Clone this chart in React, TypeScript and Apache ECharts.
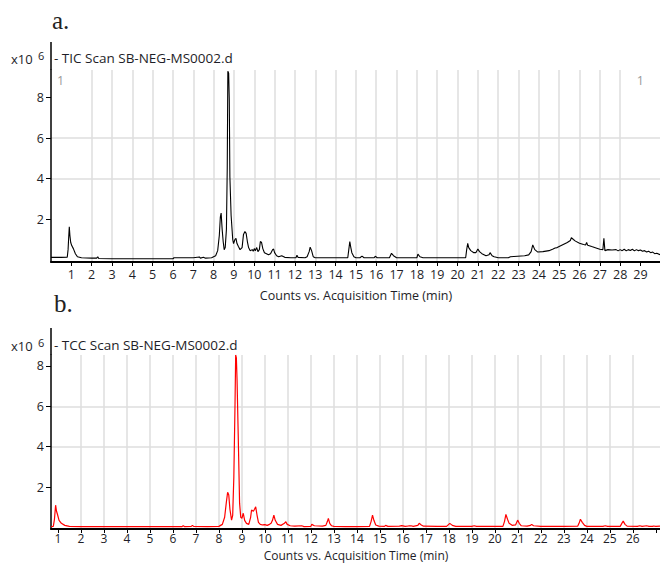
import React, { useEffect, useRef } from "react";
import * as echarts from "echarts";

// TIC (panel a) – retention time (min) and counts (x10^6)
const ticTimes = [
  0.0, 0.5, 0.8, 0.84, 0.87, 0.9, 0.93, 0.97, 1.02, 1.1, 1.2, 1.3, 1.5, 2.0, 2.25, 2.3, 2.35, 3.0, 4.0, 5.0,
  6.0, 6.05, 6.5, 7.0, 7.3, 7.35, 7.5, 7.6, 7.9, 8.1, 8.2, 8.28, 8.33, 8.37, 8.42, 8.47, 8.52, 8.57, 8.63, 8.67,
  8.7, 8.74, 8.77, 8.8, 8.86, 8.94, 8.98, 9.05, 9.1, 9.15, 9.22, 9.3, 9.4, 9.47, 9.54, 9.6, 9.66, 9.72, 9.8, 9.9,
  9.95, 10.0, 10.05, 10.12, 10.18, 10.25, 10.3, 10.36, 10.42, 10.5, 10.6, 10.7, 10.8, 10.9, 10.95, 11.0, 11.1, 11.2, 11.35, 11.5,
  11.8, 12.05, 12.1, 12.15, 12.5, 12.6, 12.7, 12.75, 12.82, 12.9, 13.0, 14.0, 14.6, 14.65, 14.7, 14.75, 14.8, 14.9, 15.0, 15.2,
  15.3, 15.4, 15.9, 15.95, 16.05, 16.65, 16.75, 16.85, 17.0, 18.0, 18.05, 18.15, 18.3, 20.4, 20.45, 20.5, 20.55, 20.65, 20.8, 20.9,
  21.0, 21.08, 21.2, 21.4, 21.55, 21.6, 21.7, 21.8, 22.0, 22.5, 22.6, 23.3, 23.5, 23.62, 23.7, 23.8, 23.95, 24.2, 24.5, 24.7,
  24.8, 24.9, 25.0, 25.2, 25.4, 25.55, 25.6, 25.7, 25.8, 26.0, 26.2, 26.3, 26.35, 26.4, 26.6, 26.85, 27.0, 27.15, 27.2, 27.25,
  27.4, 27.6, 27.8, 27.9, 28.0, 28.1, 28.2, 28.3, 28.4, 28.5, 28.6, 28.7, 28.8, 28.9, 29.0, 29.1, 29.2, 29.3, 29.4, 29.5,
  29.6, 29.7, 29.8, 29.96,
];
const ticValues = [
  0.12, 0.12, 0.13, 0.5, 1.1, 1.63, 1.2, 0.85, 0.7, 0.55, 0.3, 0.15, 0.1, 0.08, 0.08, 0.15, 0.06, 0.05, 0.05, 0.05,
  0.05, 0.1, 0.1, 0.1, 0.14, 0.08, 0.12, 0.08, 0.1, 0.2, 0.45, 1.2, 2.1, 2.3, 1.5, 0.9, 0.5, 0.6, 1.5, 4.5,
  9.3, 9.2, 7.9, 4.1, 2.2, 1.0, 0.8, 1.0, 1.06, 0.8, 0.65, 0.5, 0.6, 1.25, 1.39, 1.3, 0.9, 0.6, 0.45, 0.5,
  0.42, 0.55, 0.45, 0.6, 0.4, 0.5, 0.9, 0.85, 0.55, 0.35, 0.3, 0.25, 0.3, 0.5, 0.53, 0.35, 0.2, 0.15, 0.2, 0.12,
  0.1, 0.1, 0.22, 0.12, 0.1, 0.15, 0.4, 0.62, 0.45, 0.15, 0.1, 0.1, 0.1, 0.5, 0.9, 0.6, 0.35, 0.15, 0.1, 0.1,
  0.18, 0.1, 0.1, 0.17, 0.1, 0.1, 0.32, 0.2, 0.1, 0.1, 0.28, 0.15, 0.1, 0.1, 0.5, 0.81, 0.6, 0.45, 0.35, 0.35,
  0.53, 0.4, 0.3, 0.2, 0.25, 0.35, 0.2, 0.15, 0.1, 0.1, 0.15, 0.2, 0.24, 0.4, 0.73, 0.5, 0.38, 0.4, 0.45, 0.53,
  0.58, 0.6, 0.65, 0.75, 0.85, 0.95, 1.09, 1.0, 0.92, 0.81, 0.75, 0.73, 0.85, 0.72, 0.65, 0.57, 0.52, 0.5, 1.06, 0.45,
  0.5, 0.48, 0.5, 0.44, 0.5, 0.45, 0.52, 0.44, 0.5, 0.46, 0.52, 0.44, 0.5, 0.45, 0.48, 0.42, 0.45, 0.38, 0.42, 0.35,
  0.38, 0.3, 0.32, 0.25,
];

// TCC (panel b)
const tccTimes = [
  0.7, 0.8, 0.85, 0.9, 0.94, 0.98, 1.05, 1.15, 1.3, 1.5, 2.0, 3.0, 4.0, 5.0, 6.0, 6.4, 6.45, 6.5, 6.8, 6.85,
  6.9, 7.5, 8.0, 8.15, 8.25, 8.32, 8.38, 8.43, 8.48, 8.55, 8.6, 8.65, 8.7, 8.73, 8.76, 8.79, 8.84, 8.9, 8.95, 9.0,
  9.06, 9.12, 9.2, 9.3, 9.38, 9.42, 9.5, 9.55, 9.6, 9.66, 9.72, 9.8, 9.9, 10.0, 10.1, 10.2, 10.27, 10.33, 10.39, 10.45,
  10.55, 10.7, 10.85, 10.91, 10.97, 11.1, 11.3, 11.6, 11.7, 12.0, 12.04, 12.15, 12.5, 12.65, 12.72, 12.76, 12.82, 12.9, 13.0, 13.5,
  14.0, 14.55, 14.62, 14.68, 14.74, 14.82, 14.95, 15.2, 15.25, 15.35, 15.85, 15.95, 16.1, 16.25, 16.35, 16.45, 16.65, 16.71, 16.8, 16.9,
  17.5, 17.9, 18.04, 18.15, 18.3, 19.0, 19.1, 19.2, 20.35, 20.42, 20.48, 20.55, 20.62, 20.75, 20.9, 20.99, 21.06, 21.15, 21.4, 21.55,
  21.6, 21.68, 22.0, 23.0, 23.6, 23.66, 23.72, 23.8, 23.9, 24.0, 24.7, 24.8, 24.9, 25.45, 25.52, 25.58, 25.66, 25.75, 26.2, 26.3,
  26.4, 26.6, 26.7, 26.85, 26.9, 27.0, 27.18,
];
const tccValues = [
  0.04, 0.05, 0.4, 1.1, 0.8, 0.65, 0.35, 0.2, 0.1, 0.05, 0.04, 0.04, 0.04, 0.04, 0.04, 0.04, 0.08, 0.04, 0.05, 0.1,
  0.05, 0.04, 0.05, 0.15, 0.5, 1.2, 1.74, 1.6, 0.9, 0.36, 0.6, 2.5, 6.0, 8.54, 8.4, 7.3, 4.6, 1.2, 0.5, 0.45,
  0.7, 0.35, 0.2, 0.15, 0.5, 0.86, 0.8, 0.9, 1.02, 0.6, 0.25, 0.15, 0.12, 0.14, 0.1, 0.15, 0.2, 0.35, 0.61, 0.35,
  0.15, 0.1, 0.2, 0.28, 0.15, 0.08, 0.06, 0.08, 0.04, 0.05, 0.15, 0.08, 0.06, 0.1, 0.3, 0.45, 0.2, 0.08, 0.05, 0.04,
  0.04, 0.05, 0.3, 0.61, 0.35, 0.12, 0.06, 0.05, 0.1, 0.05, 0.06, 0.09, 0.05, 0.07, 0.08, 0.05, 0.1, 0.2, 0.12, 0.06,
  0.05, 0.05, 0.2, 0.1, 0.05, 0.05, 0.08, 0.05, 0.05, 0.3, 0.64, 0.4, 0.2, 0.1, 0.12, 0.36, 0.2, 0.08, 0.06, 0.1,
  0.15, 0.08, 0.05, 0.05, 0.06, 0.2, 0.4, 0.25, 0.1, 0.05, 0.05, 0.08, 0.05, 0.05, 0.2, 0.31, 0.15, 0.06, 0.05, 0.08,
  0.05, 0.08, 0.05, 0.05, 0.07, 0.05, 0.06,
];

const ticXTicks = [1, 2, 3, 4, 5, 6, 7, 8, 9, 10, 11, 12, 13, 14, 15, 16, 17, 18, 19, 20, 21, 22, 23, 24, 25, 26, 27, 28, 29];
const tccXTicks = [1, 2, 3, 4, 5, 6, 7, 8, 9, 10, 11, 12, 13, 14, 15, 16, 17, 18, 19, 20, 21, 22, 23, 24, 25, 26, 27];
const tccXLabels = [1, 2, 3, 4, 5, 6, 7, 8, 9, 10, 11, 12, 13, 14, 15, 16, 17, 18, 19, 20, 21, 22, 23, 24, 25, 26];
const yTicks = [2, 4, 6, 8];

const FONT = "'Open Sans', 'Noto Sans', sans-serif";
const SERIF = "'Liberation Serif', 'DejaVu Serif', serif";
const GRID_COLOR = "#dedede";
const TEXT_COLOR = "#1e1e28";

function xAxis(
  gridIndex: number,
  min: number,
  max: number,
  ticks: number[],
  labels: number[],
  margin: number,
  size: number
) {
  return {
    type: "value",
    gridIndex,
    min,
    max,
    axisLine: { show: true, onZero: false, lineStyle: { color: "#000", width: 2 } },
    axisTick: { show: true, customValues: ticks, length: 4, lineStyle: { color: "#000", width: 1 } },
    axisLabel: {
      customValues: labels,
      fontSize: size,
      lineHeight: 12,
      color: TEXT_COLOR,
      fontFamily: FONT,
      margin,
    },
    splitLine: { show: true, showMinLine: false, showMaxLine: false, lineStyle: { color: GRID_COLOR, width: 1.5 } },
  };
}

function yAxis(gridIndex: number, min: number, max: number) {
  return {
    type: "value",
    gridIndex,
    min,
    max,
    axisLine: { show: true, onZero: false, lineStyle: { color: "#000", width: 1.5 } },
    axisTick: { show: true, customValues: yTicks, length: 5, lineStyle: { color: "#000", width: 1 } },
    axisLabel: { customValues: yTicks, fontSize: 12.5, color: TEXT_COLOR, fontFamily: FONT, margin: 7 },
    splitLine: { show: true, showMinLine: false, showMaxLine: false, lineStyle: { color: GRID_COLOR, width: 1.5 } },
  };
}

function txt(x: number, y: number, text: string, size: number, opts: any = {}) {
  return {
    type: "text",
    x,
    y,
    silent: true,
    style: {
      text,
      fontSize: size,
      lineHeight: opts.lineHeight || Math.round(size * 1.1),
      fontFamily: opts.family || FONT,
      fill: opts.fill || TEXT_COLOR,
      textAlign: opts.align || "left",
      textVerticalAlign: "middle",
      verticalAlign: "middle",
    },
  };
}

export default function App() {
  const ref = useRef<HTMLDivElement>(null);
  useEffect(() => {
    document.body.style.margin = "0";
    const chart = echarts.init(ref.current!, null, { renderer: "svg" });
    const ticData = ticTimes.map((t, i) => [t, ticValues[i]]);
    const tccData = tccTimes.map((t, i) => [t, tccValues[i]]);
    chart.setOption({
      animation: false,
      backgroundColor: "#fff",
      grid: [
        { left: 51, top: 70, width: 609, height: 192 },
        { left: 51, top: 355, width: 609, height: 174 },
      ],
      xAxis: [
        xAxis(0, 0, 29.96, ticXTicks, ticXTicks, 6, 12.5),
        xAxis(1, 0.7, 27.18, tccXTicks, tccXLabels, 3, 12),
      ],
      yAxis: [yAxis(0, -0.11, 9.36), yAxis(1, -0.08, 8.54)],
      series: [
        {
          type: "line",
          xAxisIndex: 0,
          yAxisIndex: 0,
          data: ticData,
          showSymbol: false,
          symbol: "none",
          lineStyle: { color: "#000", width: 1.1 },
          z: 3,
        },
        {
          type: "line",
          xAxisIndex: 1,
          yAxisIndex: 1,
          data: tccData,
          showSymbol: false,
          symbol: "none",
          lineStyle: { color: "#ff0000", width: 1.2 },
          z: 3,
        },
      ],
      graphic: [
        txt(52, 20, "a.", 25, { family: SERIF, fill: "#222" }),
        txt(54, 303, "b.", 25, { family: SERIF, fill: "#222" }),
        { type: "line", silent: true, shape: { x1: 51, y1: 42, x2: 51, y2: 70 }, style: { stroke: "#000", lineWidth: 1.5 } },
        { type: "line", silent: true, shape: { x1: 51, y1: 328, x2: 51, y2: 355 }, style: { stroke: "#000", lineWidth: 1.5 } },
        txt(11, 59, "x10", 13),
        txt(38, 55, "6", 11),
        txt(54, 58, "- TIC Scan SB-NEG-MS0002.d", 13.5),
        txt(57, 80, "1", 12.5, { fill: "#999" }),
        txt(644, 80, "1", 12.5, { fill: "#999", align: "right" }),
        txt(356, 295, "Counts vs. Acquisition Time (min)", 12.5, { align: "center", lineHeight: 12 }),
        txt(11, 346, "x10", 13),
        txt(38, 342, "6", 11),
        txt(54, 345, "- TCC Scan SB-NEG-MS0002.d", 13.5),
        txt(356, 555.5, "Counts vs. Acquisition Time (min)", 12, { align: "center", lineHeight: 12 }),
      ],
    });
    return () => chart.dispose();
  }, []);
  return <div ref={ref} style={{ width: 660, height: 563 }} />;
}
